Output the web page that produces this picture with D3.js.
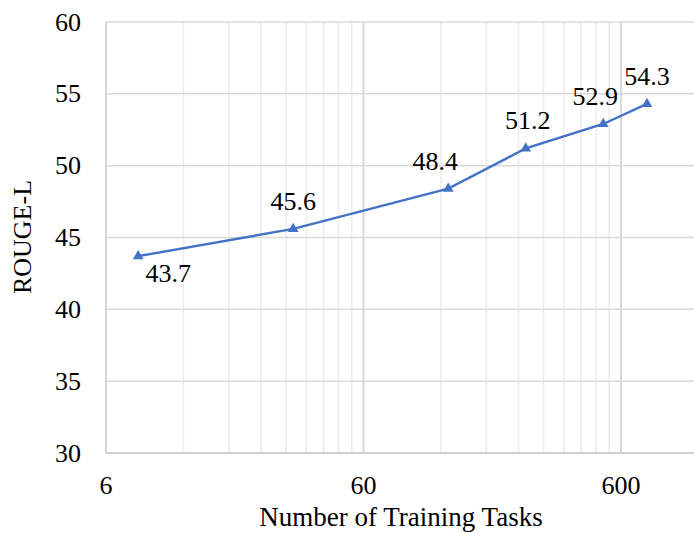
<!doctype html>
<html>
  <head>
    <script src="https://d3js.org/d3.v7.min.js"></script>
    <style>
      body { margin: 0; background: #fff; }
      text { font-family: "Liberation Serif", "Times New Roman", serif; fill: #000; }
      line.hgrid { stroke: #d9d9d9; stroke-width: 1.5; }
      line.vminor { stroke: #ececec; stroke-width: 1.5; }
      line.vmajor { stroke: #d9d9d9; stroke-width: 2; }
      line.axis { stroke: #c8c8c8; stroke-width: 1.5; }
      path.series { fill: none; stroke: #4472C4; stroke-width: 2.4; }
      path.marker { fill: #4472C4; }
    </style>
  </head>
  <body>
    <svg id="chart" width="694" height="533"></svg>
    <script>
      // number of training tasks vs ROUGE-L
      var tasks = [8, 32, 128, 256, 512, 757];
      var rouge = [43.7, 45.6, 48.4, 51.2, 52.9, 54.3];
      var yTicks = [30, 35, 40, 45, 50, 55, 60];
      var xTicks = [6, 60, 600];

      var svg = d3.select("#chart");
      var mLeft = 106, mTop = 22, mBottom = 453;

      var x = d3.scaleLog().domain([6, 6000]).range([mLeft, mLeft + 3 * 257.5]);
      var y = d3.scaleLinear().domain([30, 60]).range([mBottom, mTop]);

      // minor vertical grid (6*k per decade)
      var minor = [];
      [6, 60, 600].forEach(function(d) {
        for (var k = 2; k <= 9; k++) minor.push(d * k);
      });
      svg.selectAll("line.vminor").data(minor).enter()
        .append("line").attr("class", "vminor")
        .attr("x1", d => x(d)).attr("x2", d => x(d))
        .attr("y1", mTop).attr("y2", mBottom);

      svg.selectAll("line.hgrid").data(yTicks).enter()
        .append("line").attr("class", "hgrid")
        .attr("x1", mLeft).attr("x2", 694)
        .attr("y1", d => y(d)).attr("y2", d => y(d));

      svg.selectAll("line.vmajor").data(xTicks.slice(1)).enter()
        .append("line").attr("class", "vmajor")
        .attr("x1", d => x(d)).attr("x2", d => x(d))
        .attr("y1", mTop).attr("y2", mBottom);

      // axes lines
      svg.append("line").attr("class", "axis")
        .attr("x1", mLeft).attr("x2", mLeft).attr("y1", mTop).attr("y2", mBottom);
      svg.append("line").attr("class", "axis")
        .attr("x1", mLeft).attr("x2", 694).attr("y1", mBottom).attr("y2", mBottom);

      // tick labels
      svg.selectAll("text.ytick").data(yTicks).enter()
        .append("text").attr("class", "ytick")
        .attr("x", 81).attr("y", d => y(d))
        .attr("dy", "0.33em")
        .attr("text-anchor", "end")
        .style("font-size", "26px")
        .text(d => d);

      svg.selectAll("text.xtick").data(xTicks).enter()
        .append("text").attr("class", "xtick")
        .attr("x", d => x(d)).attr("y", 494)
        .attr("text-anchor", "middle")
        .style("font-size", "26px")
        .text(d => d);

      // axis titles
      svg.append("text")
        .attr("x", 401).attr("y", 526)
        .attr("text-anchor", "middle")
        .style("font-size", "27px")
        .text("Number of Training Tasks");

      svg.append("text")
        .attr("transform", "translate(31,237) rotate(-90)")
        .attr("text-anchor", "middle")
        .style("font-size", "26px")
        .text("ROUGE-L");

      // series
      var pts = tasks.map((t, i) => [t, rouge[i]]);
      svg.append("path").attr("class", "series")
        .attr("d", d3.line().x(d => x(d[0])).y(d => y(d[1]))(pts));

      svg.selectAll("path.marker").data(pts).enter()
        .append("path").attr("class", "marker")
        .attr("d", d3.symbol().type(d3.symbolTriangle).size(50))
        .attr("transform", d => "translate(" + x(d[0]) + "," + y(d[1]) + ")");

      // data labels (small nudges like the original)
      var nudgeX = [30, 0, -13, 2, -8, 0];
      svg.selectAll("text.label").data(pts).enter()
        .append("text").attr("class", "label")
        .attr("x", (d, i) => x(d[0]) + nudgeX[i])
        .attr("y", (d, i) => y(d[1]) + (i === 0 ? 26 : -19))
        .attr("text-anchor", "middle")
        .style("font-size", "26px")
        .text(d => d[1].toFixed(1));
    </script>
  </body>
</html>
